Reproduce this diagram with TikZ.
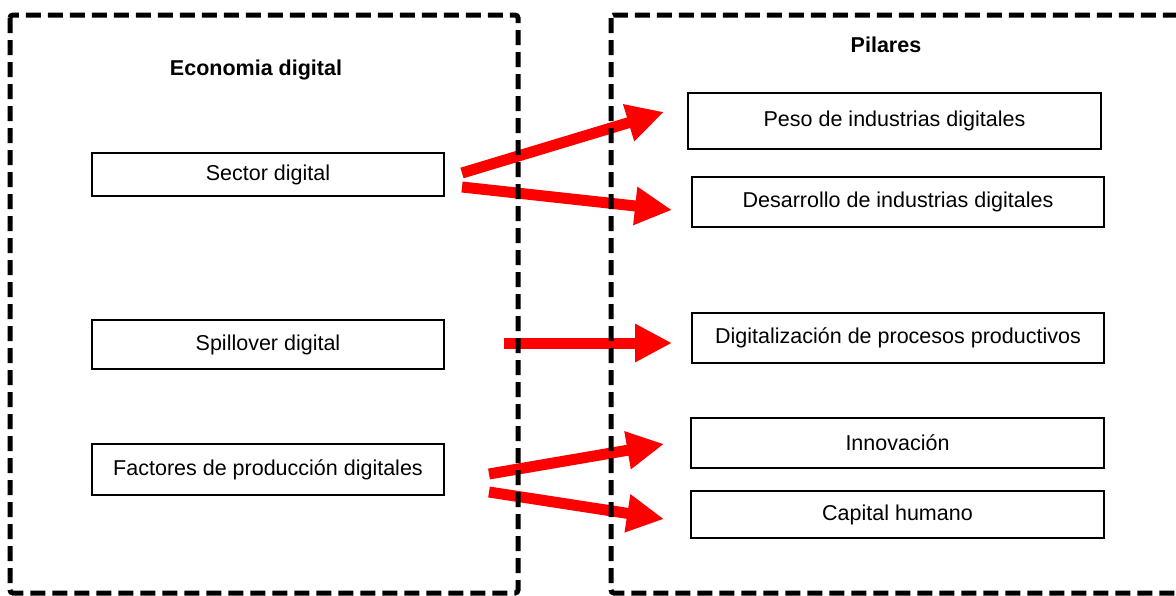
\documentclass[tikz,border=0pt]{standalone}
\usepackage{fontspec}
\setmainfont{Liberation Sans}
\usetikzlibrary{arrows.meta}

\begin{document}
\begin{tikzpicture}[x=1pt, y=-1pt,
    kasten/.style={draw=black, line width=2pt, inner sep=0pt,
        font=\fontsize{21.5}{25}\selectfont},
    titel/.style={font=\fontsize{21.5}{25}\selectfont\bfseries},
    pfeil/.style={draw=red, line width=11pt,
        -{Triangle[length=37pt, width=36pt]}},
    rahmen/.style={draw=black, line width=5pt, dash pattern=on 15pt off 7pt,
        rounded corners=3pt}]
    % feste Bildgroesse (Pixel der Vorlage)
    \useasboundingbox (0,0) rectangle (1176,595);

    % ==========================================
    % LINKER BEREICH: ECONOMIA DIGITAL
    % ==========================================
    \node[titel] (titelL) at (256,70) {Economia digital};

    \node[kasten, minimum width=352pt, minimum height=43pt] (sektor) at (268,174.5) {Sector digital};
    \node[kasten, minimum width=352pt, minimum height=49pt] (spillover) at (268,344.5) {Spillover digital};
    \node[kasten, minimum width=352pt, minimum height=51pt] (faktoren) at (268,469.5) {Factores de producción digitales};

    % ==========================================
    % RECHTER BEREICH: PILARES
    % ==========================================
    \node[titel] (titelR) at (886,45) {Pilares};

    \node[kasten, minimum width=413pt, minimum height=56pt] (gewicht) at (894.5,121) {Peso de industrias digitales};
    \node[kasten, minimum width=412pt, minimum height=50pt] (entwicklung) at (898,202) {Desarrollo de industrias digitales};
    \node[kasten, minimum width=412pt, minimum height=50pt] (digitalis) at (898,338) {Digitalización de procesos productivos};
    \node[kasten, minimum width=413pt, minimum height=50pt] (innovation) at (897.5,443) {Innovación};
    \node[kasten, minimum width=413pt, minimum height=47pt] (kapital) at (897.5,514.5) {Capital humano};

    % ==========================================
    % ROTE PFEILE
    % ==========================================
    \draw[pfeil] ([shift={(17,-1.5)}]sektor.east) -- ([shift={(-23,-9)}]gewicht.west);
    \draw[pfeil] ([shift={(17,12.5)}]sektor.east) -- ([shift={(-19,8)}]entwicklung.west);
    \draw[pfeil] ([shift={(59,-1.5)}]spillover.east) -- ([shift={(-19,5)}]digitalis.west);
    \draw[pfeil] ([shift={(44,4.5)}]faktoren.east) -- ([shift={(-26,1)}]innovation.west);
    \draw[pfeil] ([shift={(44,22.5)}]faktoren.east) -- ([shift={(-26,4.5)}]kapital.west);

    % ==========================================
    % GESTRICHELTE RAHMEN (ueber den Pfeilen)
    % ==========================================
    \draw[rahmen] (10,15) rectangle (518,593);
    \draw[rahmen] (611,15) rectangle (1200,593);

\end{tikzpicture}
\end{document}
